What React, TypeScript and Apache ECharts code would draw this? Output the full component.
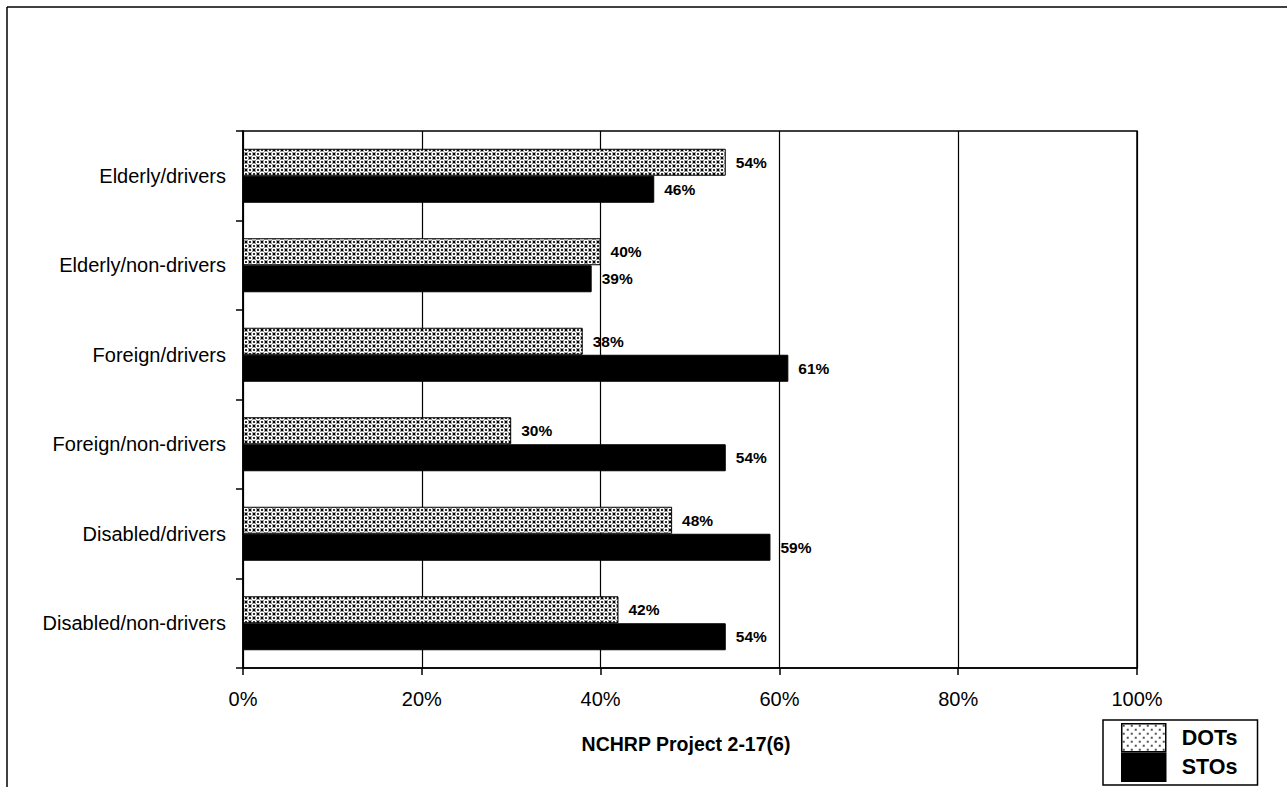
import React, { useEffect, useRef } from "react";
import * as echarts from "echarts";

const categories = [
  "Elderly/drivers",
  "Elderly/non-drivers",
  "Foreign/drivers",
  "Foreign/non-drivers",
  "Disabled/drivers",
  "Disabled/non-drivers",
];
const dotsValues = [54, 40, 38, 30, 48, 42];
const stosValues = [46, 39, 61, 54, 59, 54];
const xTicks = [0, 20, 40, 60, 80, 100];
const seriesNames = ["DOTs", "STOs"];
const axisTitle = "NCHRP Project 2-17(6)";

function makePattern(dense: boolean): string {
  const c = document.createElement("canvas");
  const s = 8;
  c.width = s;
  c.height = s;
  const ctx = c.getContext("2d")!;
  const centers: [number, number][] = [[2, 2], [6, 6]];
  const offs = [-8, 0, 8];
  if (dense) {
    ctx.fillStyle = "#000";
    ctx.fillRect(0, 0, s, s);
    ctx.fillStyle = "#fff";
    centers.forEach(([x, y]) => {
      offs.forEach((dx) =>
        offs.forEach((dy) => {
          ctx.beginPath();
          ctx.arc(x + dx, y + dy, 2.75, 0, Math.PI * 2);
          ctx.fill();
        })
      );
    });
    ctx.fillStyle = "#000";
    centers.forEach(([x, y]) => {
      ctx.beginPath();
      ctx.arc(x, y, 1.1, 0, Math.PI * 2);
      ctx.fill();
    });
  } else {
    ctx.fillStyle = "#fff";
    ctx.fillRect(0, 0, s, s);
    ctx.fillStyle = "#000";
    centers.forEach(([x, y]) => {
      ctx.beginPath();
      ctx.arc(x, y, 0.9, 0, Math.PI * 2);
      ctx.fill();
    });
  }
  return c.toDataURL();
}

export default function App() {
  const ref = useRef<HTMLDivElement>(null);

  useEffect(() => {
    if (!ref.current) return;
    const chart = echarts.init(ref.current, undefined, { renderer: "svg" });
    const dense = { image: makePattern(true), repeat: "repeat" } as any;
    const sparse = { image: makePattern(false), repeat: "repeat" } as any;
    const font = "'Liberation Sans', Arial, sans-serif";

    const labelCfg = {
      show: true,
      position: "right",
      distance: 10,
      formatter: (p: any) => p.value + "%",
      fontFamily: font,
      fontSize: 15.5,
      fontWeight: "bold",
      color: "#000",
    };

    chart.setOption({
      animation: false,
      backgroundColor: "#fff",
      textStyle: { fontFamily: font },
      grid: {
        left: 243,
        top: 131,
        width: 894,
        height: 537,
        show: true,
        borderColor: "#000",
        borderWidth: 1.5,
        backgroundColor: "transparent",
      },
      legend: {
        orient: "vertical",
        left: 1103,
        top: 720,
        itemWidth: 44,
        itemHeight: 28,
        itemGap: 0,
        padding: [3, 20, 3, 18],
        borderColor: "#000",
        borderWidth: 1.5,
        backgroundColor: "#fff",
        textStyle: {
          fontFamily: font,
          fontSize: 21.5,
          fontWeight: "bold",
          color: "#000",
          padding: [0, 0, 0, 11],
        },
        data: [
          { name: seriesNames[0], icon: "rect", itemStyle: { color: sparse, borderColor: "#000", borderWidth: 1.5 } },
          { name: seriesNames[1], icon: "rect", itemStyle: { color: "#000", borderColor: "#000", borderWidth: 1.5 } },
        ],
      },
      xAxis: {
        type: "value",
        min: 0,
        max: 100,
        interval: 20,
        axisLine: { show: true, lineStyle: { color: "#000", width: 1.5 } },
        axisTick: { show: true, length: 7, lineStyle: { color: "#000", width: 1.5 } },
        splitLine: { show: true, lineStyle: { color: "#000", width: 1.2 } },
        axisLabel: {
          formatter: (v: number) => (xTicks.includes(v) ? v + "%" : ""),
          fontFamily: font,
          fontSize: 20,
          color: "#000",
          margin: 21,
        },
      },
      yAxis: {
        type: "category",
        inverse: true,
        data: categories,
        axisLine: { show: true, lineStyle: { color: "#000", width: 1.5 } },
        axisTick: { show: true, length: 7, alignWithLabel: false, lineStyle: { color: "#000", width: 1.5 } },
        axisLabel: { fontFamily: font, fontSize: 20, color: "#000", margin: 17 },
        splitLine: { show: false },
      },
      series: [
        {
          name: seriesNames[0],
          type: "bar",
          data: dotsValues,
          barWidth: 27,
          barGap: "0%",
          itemStyle: { color: dense, borderColor: "#000", borderWidth: 1 },
          label: labelCfg,
        },
        {
          name: seriesNames[1],
          type: "bar",
          data: stosValues,
          barWidth: 27,
          barGap: "0%",
          itemStyle: { color: "#000", borderColor: "#000", borderWidth: 1 },
          label: labelCfg,
        },
      ],
      graphic: [
        {
          type: "line",
          shape: { x1: 7, y1: 7, x2: 1287, y2: 7 },
          style: { stroke: "#000", lineWidth: 1.5 },
        },
        {
          type: "line",
          shape: { x1: 7, y1: 7, x2: 7, y2: 787 },
          style: { stroke: "#000", lineWidth: 1.5 },
        },
        {
          type: "text",
          x: 686,
          y: 744,
          style: {
            text: axisTitle,
            fontFamily: font,
            fontSize: 19.5,
            fontWeight: "bold",
            fill: "#000",
            align: "center",
            verticalAlign: "middle",
          },
        },
      ],
    });
    return () => chart.dispose();
  }, []);

  return (
    <div
      ref={ref}
      style={{ position: "fixed", left: 0, top: 0, width: 1287, height: 787 }}
    />
  );
}
